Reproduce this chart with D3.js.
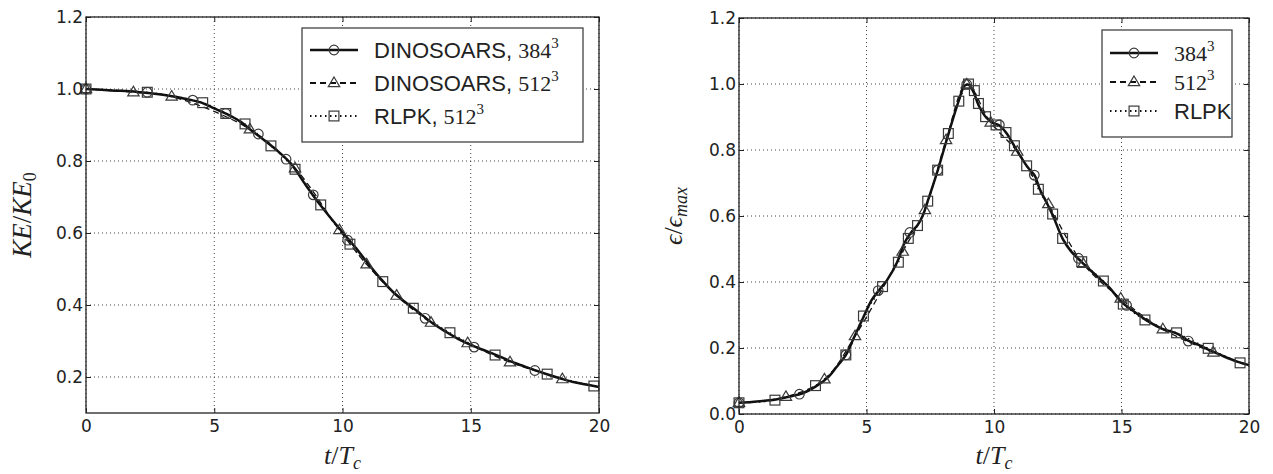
<!DOCTYPE html>
<html>
<head>
<meta charset="utf-8">
<script src="https://cdn.jsdelivr.net/npm/d3@7"></script>
<style>
  body { margin: 0; background: #fff; }
  svg { display: block; }
</style>
</head>
<body>
<svg id="fig" width="1273" height="474"></svg>
<script>
// ---- shared ticks ----
const timeTicks = [0, 5, 10, 15, 20];
const keTicks = [0.2, 0.4, 0.6, 0.8, 1.0, 1.2];
const epsTicks = [0.0, 0.2, 0.4, 0.6, 0.8, 1.0, 1.2];

// ---- kinetic energy decay, KE/KE0 ----
const keLine384T = [0, 1, 2, 3, 4, 4.5, 5, 5.5, 6, 6.5, 7, 7.5, 8, 8.5, 9, 9.5, 10, 10.5, 11, 11.5, 12, 12.5, 13, 13.5, 14, 14.5, 15, 15.5, 16, 16.5, 17, 17.5, 18, 18.5, 19, 19.5, 20];
const keLine384V = [1.0, 0.996, 0.992, 0.984, 0.971, 0.962, 0.946, 0.930, 0.910, 0.882, 0.855, 0.826, 0.792, 0.740, 0.690, 0.645, 0.602, 0.560, 0.515, 0.472, 0.434, 0.405, 0.378, 0.350, 0.327, 0.306, 0.289, 0.275, 0.261, 0.245, 0.232, 0.219, 0.207, 0.196, 0.186, 0.179, 0.172];
const keMark384T = [0, 2.39, 4.16, 5.45, 6.72, 7.8, 8.86, 10.2, 13.22, 15.13, 17.5];
const keMark384V = [1.0, 0.991, 0.969, 0.932, 0.875, 0.805, 0.706, 0.58, 0.363, 0.283, 0.218];
const keMark512T = [0, 1.85, 3.34, 6.39, 8.15, 9.88, 10.94, 12.11, 13.45, 14.88, 16.53, 18.57];
const keMark512V = [1.0, 0.991, 0.979, 0.888, 0.78, 0.608, 0.513, 0.426, 0.351, 0.294, 0.241, 0.194];
const keMarkRlpkT = [0, 2.39, 4.55, 5.45, 6.2, 7.21, 8.15, 9.15, 10.29, 11.57, 12.76, 14.19, 15.95, 17.98, 19.8];
const keMarkRlpkV = [1.0, 0.991, 0.962, 0.932, 0.903, 0.842, 0.777, 0.678, 0.569, 0.465, 0.391, 0.323, 0.261, 0.208, 0.175];

// ---- dissipation rate, eps/eps_max ----
const epsLine384T = [0, 0.5, 1.0, 1.5, 2.0, 2.5, 3.0, 3.5, 3.8, 4.2, 4.5, 4.9, 5.2, 5.5, 5.8, 6.2, 6.5, 6.8, 7.0, 7.2, 7.4, 7.8, 8.2, 8.6, 8.85, 9.0, 9.2, 9.4, 9.7, 10.0, 10.2, 10.5, 10.9, 11.3, 11.6, 11.8, 12.1, 12.3, 12.7, 13.0, 13.4, 14.0, 14.5, 15.0, 15.5, 16.0, 16.6, 17.2, 17.6, 18.0, 18.5, 19.0, 19.6, 20.0];
const epsLine384V = [0.034, 0.036, 0.040, 0.045, 0.053, 0.063, 0.083, 0.112, 0.140, 0.180, 0.230, 0.297, 0.345, 0.376, 0.405, 0.460, 0.520, 0.555, 0.572, 0.600, 0.645, 0.740, 0.845, 0.945, 0.995, 0.998, 0.975, 0.935, 0.898, 0.880, 0.875, 0.850, 0.798, 0.750, 0.722, 0.680, 0.635, 0.603, 0.530, 0.495, 0.463, 0.420, 0.385, 0.340, 0.310, 0.283, 0.258, 0.243, 0.223, 0.210, 0.192, 0.175, 0.157, 0.148];
const epsMark384T = [0, 2.37, 4.19, 5.46, 6.7, 7.79, 8.93, 10.21, 11.58, 13.31, 15.2, 17.62];
const epsMark384V = [0.034, 0.060, 0.179, 0.374, 0.55, 0.739, 0.999, 0.876, 0.724, 0.472, 0.329, 0.221];
const epsMark512T = [0, 1.84, 3.35, 4.55, 6.42, 7.29, 8.12, 8.93, 9.87, 10.91, 12.13, 13.5, 14.97, 16.62, 18.6];
const epsMark512V = [0.034, 0.052, 0.105, 0.236, 0.492, 0.618, 0.83, 0.999, 0.883, 0.795, 0.636, 0.455, 0.35, 0.257, 0.186];
const epsMarkRlpkT = [0, 1.41, 3.0, 4.19, 4.88, 5.63, 6.25, 6.64, 7.0, 7.4, 7.79, 8.21, 8.62, 9.0, 9.23, 9.39, 9.67, 10.08, 10.47, 10.8, 11.28, 11.74, 12.3, 12.69, 13.44, 14.29, 15.07, 15.92, 17.16, 18.4, 19.65];
const epsMarkRlpkV = [0.034, 0.042, 0.086, 0.179, 0.297, 0.386, 0.46, 0.532, 0.571, 0.645, 0.739, 0.85, 0.948, 1.0, 0.98, 0.941, 0.901, 0.876, 0.853, 0.813, 0.752, 0.681, 0.606, 0.532, 0.4615, 0.403, 0.333, 0.285, 0.246, 0.199, 0.155];

const zip = (t, v) => t.map((x, i) => [x, v[i]]);

const svg = d3.select("#fig");
const TICK_FONT = "'DejaVu Sans', sans-serif";
const SANS = "'Liberation Sans', Arial, sans-serif";
const SERIF = "'Liberation Serif', 'DejaVu Serif', serif";

const styles = {
  s384: { dash: null, symbol: "circle" },
  s512: { dash: "6,4", symbol: "triangle" },
  rlpk: { dash: "1.5,3.5", symbol: "square" }
};

function marker(g, kind, x, y) {
  const stroke = "#3a3a3a";
  if (kind === "circle") {
    g.append("circle").attr("cx", x).attr("cy", y).attr("r", 4.8)
      .attr("fill", "none").attr("stroke", stroke).attr("stroke-width", 1.2);
  } else if (kind === "square") {
    g.append("rect").attr("x", x - 4.9).attr("y", y - 4.9).attr("width", 9.8).attr("height", 9.8)
      .attr("fill", "none").attr("stroke", stroke).attr("stroke-width", 1.2);
  } else {
    const r = 6;
    g.append("path")
      .attr("d", `M${x},${y - r}L${x + r * 0.95},${y + r * 0.6}L${x - r * 0.95},${y + r * 0.6}Z`)
      .attr("fill", "none").attr("stroke", stroke).attr("stroke-width", 1.2);
  }
}

function panel(cfg) {
  const x = d3.scaleLinear().domain([0, 20]).range([cfg.left, cfg.right]);
  const y = d3.scaleLinear().domain(cfg.yDomain).range([cfg.bottom, cfg.top]);
  const g = svg.append("g");

  // dotted grid
  const grid = g.append("g").attr("stroke", "#444").attr("stroke-width", 1)
    .attr("stroke-dasharray", "1,3");
  timeTicks.forEach(t => grid.append("line")
    .attr("x1", x(t)).attr("x2", x(t)).attr("y1", cfg.top).attr("y2", cfg.bottom));
  cfg.yTicks.forEach(v => grid.append("line")
    .attr("x1", cfg.left).attr("x2", cfg.right).attr("y1", y(v)).attr("y2", y(v)));

  // series: lines first (solid one on top), then markers
  const line = d3.line().x(d => x(d[0])).y(d => y(d[1])).curve(d3.curveCatmullRom.alpha(0.5));
  const plotG = g.append("g");
  cfg.series.slice().reverse().forEach(s => {
    plotG.append("path").datum(s.line)
      .attr("d", line).attr("fill", "none")
      .attr("stroke", "#111").attr("stroke-width", s.style.dash ? 1.3 : 2.5)
      .attr("stroke-dasharray", s.style.dash);
  });
  cfg.series.forEach(s => {
    s.marks.forEach(d => marker(plotG, s.style.symbol, x(d[0]), y(d[1])));
  });

  // axes with inward ticks on every side
  const styleAxis = sel => {
    sel.select(".domain").remove();
    sel.selectAll(".tick line").attr("stroke", "#222").attr("stroke-width", 1);
    sel.selectAll(".tick text").attr("font-family", TICK_FONT).attr("font-size", 17).attr("fill", "#222");
  };
  g.append("g").attr("transform", `translate(0,${cfg.bottom})`)
    .call(d3.axisBottom(x).tickValues(timeTicks).tickFormat(d3.format("d")).tickSizeInner(-5).tickSizeOuter(0).tickPadding(7))
    .call(styleAxis);
  g.append("g").attr("transform", `translate(0,${cfg.top})`)
    .call(d3.axisTop(x).tickValues(timeTicks).tickFormat("").tickSizeInner(-5).tickSizeOuter(0))
    .call(styleAxis);
  g.append("g").attr("transform", `translate(${cfg.left},0)`)
    .call(d3.axisLeft(y).tickValues(cfg.yTicks).tickFormat(d3.format(".1f")).tickSizeInner(-5).tickSizeOuter(0).tickPadding(3))
    .call(styleAxis);
  g.append("g").attr("transform", `translate(${cfg.right},0)`)
    .call(d3.axisRight(y).tickValues(cfg.yTicks).tickFormat("").tickSizeInner(-5).tickSizeOuter(0))
    .call(styleAxis);

  // frame
  g.append("rect").attr("x", cfg.left).attr("y", cfg.top)
    .attr("width", cfg.right - cfg.left).attr("height", cfg.bottom - cfg.top)
    .attr("fill", "none").attr("stroke", "#222").attr("stroke-width", 1.3);

  // x label t/T_c
  const xl = g.append("text").attr("x", (cfg.left + cfg.right) / 2).attr("y", 464)
    .attr("text-anchor", "middle").attr("font-family", SERIF).attr("font-size", 26).attr("fill", "#222");
  xl.append("tspan").attr("font-style", "italic").text("t");
  xl.append("tspan").text("/");
  xl.append("tspan").attr("font-style", "italic").text("T");
  xl.append("tspan").attr("font-style", "italic").attr("font-size", 18).attr("dy", 5).text("c");

  // y label
  const yl = g.append("text").attr("transform", `translate(${cfg.yLabelX},${(cfg.top + cfg.bottom) / 2}) rotate(-90)`)
    .attr("text-anchor", "middle").attr("font-family", SERIF).attr("font-size", cfg.yLabelSize).attr("fill", "#222");
  cfg.yLabel(yl);

  // legend
  const lg = g.append("g");
  const L = cfg.legend;
  lg.append("rect").attr("x", L.x).attr("y", L.y).attr("width", L.w).attr("height", L.h)
    .attr("fill", "#fff").attr("stroke", "#333").attr("stroke-width", 1.2);
  cfg.series.forEach((s, i) => {
    const cy = L.y + L.first + i * L.step;
    lg.append("line").attr("x1", L.x + 8).attr("x2", L.x + 56).attr("y1", cy).attr("y2", cy)
      .attr("stroke", "#111").attr("stroke-width", s.style.dash ? 1.8 : 2.4)
      .attr("stroke-dasharray", s.style.dash);
    marker(lg, s.style.symbol, L.x + 32, cy);
    const t = lg.append("text").attr("x", L.x + 72).attr("y", cy + 8)
      .attr("font-size", 22).attr("fill", "#222");
    s.label(t);
  });
}

function labelRes(prefix, res) {
  return t => {
    if (prefix) t.append("tspan").attr("font-family", SANS).text(prefix);
    t.append("tspan").attr("font-family", SERIF).attr("dx", prefix ? 6 : 0).text(res);
    t.append("tspan").attr("font-family", SERIF).attr("font-size", 15).attr("dy", -10).text("3");
  };
}

panel({
  left: 86, right: 599, top: 17, bottom: 413,
  yDomain: [0.1, 1.2], yTicks: keTicks, yLabelX: 31, yLabelSize: 27,
  yLabel: t => {
    t.append("tspan").attr("font-style", "italic").text("KE");
    t.append("tspan").text("/");
    t.append("tspan").attr("font-style", "italic").text("KE");
    t.append("tspan").attr("font-size", 18).attr("dy", 5).text("0");
  },
  legend: { x: 302, y: 28, w: 281, h: 114, first: 22, step: 33 },
  series: [
    { line: zip(keLine384T, keLine384V), marks: zip(keMark384T, keMark384V), style: styles.s384, label: labelRes("DINOSOARS,", "384") },
    { line: zip(keMark512T, keMark512V), marks: zip(keMark512T, keMark512V), style: styles.s512, label: labelRes("DINOSOARS,", "512") },
    { line: zip(keMarkRlpkT, keMarkRlpkV), marks: zip(keMarkRlpkT, keMarkRlpkV), style: styles.rlpk, label: labelRes("RLPK,", "512") }
  ]
});

panel({
  left: 739, right: 1249, top: 18, bottom: 414,
  yDomain: [0, 1.2], yTicks: epsTicks, yLabelX: 682, yLabelSize: 26,
  yLabel: t => {
    t.append("tspan").attr("font-style", "italic").text("ϵ");
    t.append("tspan").text("/");
    t.append("tspan").attr("font-style", "italic").text("ϵ");
    t.append("tspan").attr("font-style", "italic").attr("font-size", 18).attr("dy", 5).text("max");
  },
  legend: { x: 1102, y: 30, w: 130, h: 107, first: 23, step: 29 },
  series: [
    { line: zip(epsLine384T, epsLine384V), marks: zip(epsMark384T, epsMark384V), style: styles.s384, label: labelRes("", "384") },
    { line: zip(epsMark512T, epsMark512V), marks: zip(epsMark512T, epsMark512V), style: styles.s512, label: labelRes("", "512") },
    { line: zip(epsMarkRlpkT, epsMarkRlpkV), marks: zip(epsMarkRlpkT, epsMarkRlpkV), style: styles.rlpk, label: t => t.append("tspan").attr("font-family", SANS).text("RLPK") }
  ]
});
</script>
</body>
</html>
